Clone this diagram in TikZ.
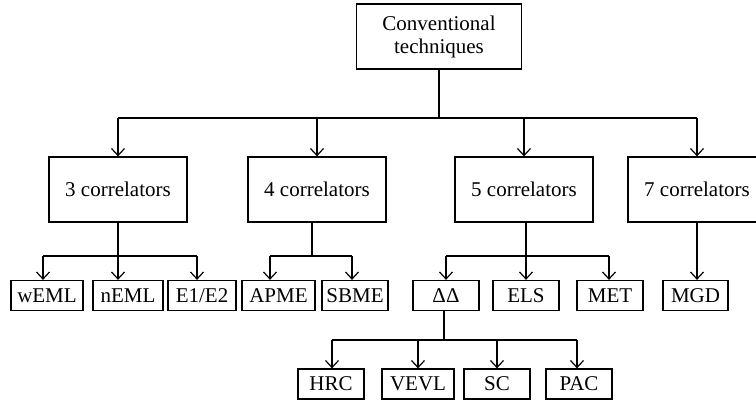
\documentclass[tikz,border=0pt]{standalone}
\usepackage{fontspec}
\setmainfont{Liberation Serif}
\usetikzlibrary{arrows.meta}
\begin{document}
\begin{tikzpicture}[x=1pt,y=-1pt,
  line width=1.25pt,
  box/.style={draw, inner sep=0pt, font=\fontsize{21}{23}\selectfont, align=center},
  big/.style={box, minimum width=138pt, minimum height=65pt},
  leaf/.style={box, minimum height=30pt},
  arr/.style={-{Straight Barb[length=7pt,width=13pt,line width=1.2pt]}}]
\useasboundingbox (0,0) rectangle (756,404);
\clip (0,0) rectangle (756,404);
% top
\node[box, minimum width=165pt, minimum height=65pt] (top) at (439,36.5) {Conventional\\techniques};
% level 2
\node[big] (c3) at (118,189.5) {3 correlators};
\node[big] (c4) at (317,189.5) {4 correlators};
\node[big] (c5) at (524,189.5) {5 correlators};
\node[big] (c7) at (697,189.5) {7 correlators};
% leaves
\node[leaf, minimum width=72pt] (wEML) at (47,295.5) {wEML};
\node[leaf, minimum width=70pt] (nEML) at (128,295.5) {nEML};
\node[leaf, minimum width=68pt] (E12) at (202,295.5) {E1/E2};
\node[leaf, minimum width=73pt] (APME) at (278.5,295.5) {APME};
\node[leaf, minimum width=66pt] (SBME) at (355,295.5) {SBME};
\node[leaf, minimum width=66pt] (DD) at (446,295.5) {ΔΔ};
\node[leaf, minimum width=66pt] (ELS) at (526,295.5) {ELS};
\node[leaf, minimum width=66pt] (MET) at (610,295.5) {MET};
\node[leaf, minimum width=65pt] (MGD) at (695.5,295.5) {MGD};
% bottom
\node[leaf, minimum width=66pt] (HRC) at (331,384) {HRC};
\node[leaf, minimum width=72pt] (VEVL) at (418,384) {VEVL};
\node[leaf, minimum width=66pt] (SC) at (497,384) {SC};
\node[leaf, minimum width=66pt] (PAC) at (579,384) {PAC};
% bus coordinates
\coordinate (b1) at (0,118);
\coordinate (b3) at (0,256);
\coordinate (b5) at (0,340);
\coordinate (xw) at (43,0);
\coordinate (xe) at (197,0);
\coordinate (xa) at (270,0);
\coordinate (xs) at (352,0);
\coordinate (xd) at (446,0);
\coordinate (xm) at (609,0);
\coordinate (xh) at (332,0);
\coordinate (xp) at (577,0);
% top -> level 2
\draw (top.south) -- (top.south |- b1);
\draw[arr] (c3.north |- b1) -- (c3.north);
\draw (c3.north |- b1) -- (c7.north |- b1);
\draw[arr] (c4.north |- b1) -- (c4.north);
\draw[arr] (c5.north |- b1) -- (c5.north);
\draw[arr] (c7.north |- b1) -- (c7.north);
% 3 correlators
\draw (c3.south) -- (c3.south |- b3);
\draw (xw |- b3) -- (xe |- b3);
\draw[arr] (xw |- b3) -- (xw |- wEML.north);
\draw[arr] (c3.south |- b3) -- (c3.south |- nEML.north);
\draw[arr] (xe |- b3) -- (xe |- E12.north);
% 4 correlators
\draw (c4.south) ++(-5,0) coordinate (s4) -- (s4 |- b3);
\draw (xa |- b3) -- (xs |- b3);
\draw[arr] (xa |- b3) -- (xa |- APME.north);
\draw[arr] (xs |- b3) -- (xs |- SBME.north);
% 5 correlators
\draw (c5.south) ++(2,0) coordinate (s5) -- (s5 |- b3);
\draw (xd |- b3) -- (xm |- b3);
\draw[arr] (xd |- b3) -- (xd |- DD.north);
\draw[arr] (s5 |- b3) -- (s5 |- ELS.north);
\draw[arr] (xm |- b3) -- (xm |- MET.north);
% 7 correlators
\draw[arr] (c7.south) -- (c7.south |- MGD.north);
% Delta Delta
\draw (DD.south) ++(-2,0) coordinate (sd) -- (sd |- b5);
\draw (xh |- b5) -- (xp |- b5);
\draw[arr] (xh |- b5) -- (xh |- HRC.north);
\draw[arr] (VEVL.north |- b5) -- (VEVL.north);
\draw[arr] (SC.north |- b5) -- (SC.north);
\draw[arr] (xp |- b5) -- (xp |- PAC.north);
\end{tikzpicture}
\end{document}
